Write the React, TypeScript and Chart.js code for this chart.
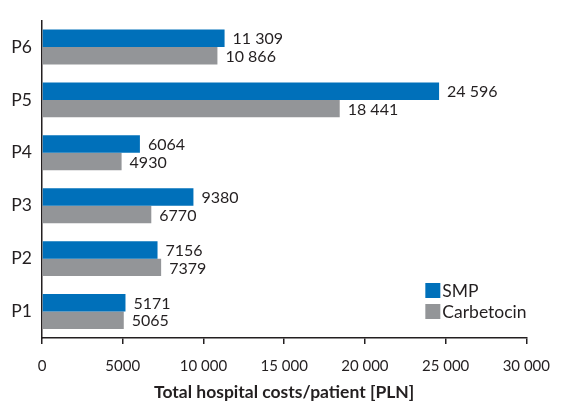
import React, { useEffect, useRef } from "react";
import { Chart, registerables } from "chart.js";

Chart.register(...registerables);

const categories = ["P6", "P5", "P4", "P3", "P2", "P1"];
const smpValues = [11309, 24596, 6064, 9380, 7156, 5171];
const carbetocinValues = [10866, 18441, 4930, 6770, 7379, 5065];
const seriesNames = ["SMP", "Carbetocin"];
const xTicks = [0, 5000, 10000, 15000, 20000, 25000, 30000];
const axisTitle = "Total hospital costs/patient [PLN]";

const BLUE = "#0070ba";
const GRAY = "#939598";
const TEXT = "#231f20";
const FONT = "Lato, 'Open Sans', sans-serif";

const fmtSpace = (v: number) => {
  if (v < 10000) return String(v);
  const s = String(v);
  return s.slice(0, s.length - 3) + " " + s.slice(s.length - 3);
};

const labelsPlugin = {
  id: "barLabels",
  afterDatasetsDraw(chart: any) {
    const ctx = chart.ctx;
    ctx.save();
    ctx.font = `16px ${FONT}`;
    ctx.fillStyle = TEXT;
    ctx.textAlign = "left";
    ctx.textBaseline = "middle";
    chart.data.datasets.forEach((ds: any, di: number) => {
      const meta = chart.getDatasetMeta(di);
      meta.data.forEach((bar: any, i: number) => {
        ctx.fillText(fmtSpace(ds.data[i]), bar.x + 8, bar.y + 1);
      });
    });
    // legend
    const a = chart.chartArea;
    const colors = [BLUE, GRAY];
    ctx.font = `17.5px ${FONT}`;
    seriesNames.forEach((name, i) => {
      const bx = a.right - 101;
      const by = a.bottom - 55 + i * 21;
      ctx.fillStyle = colors[i];
      ctx.fillRect(bx, by, 15, 15);
      ctx.fillStyle = TEXT;
      ctx.fillText(name, bx + 17, by + 8.5);
    });
    ctx.restore();
  },
};

export default function App() {
  const ref = useRef<HTMLCanvasElement>(null);
  useEffect(() => {
    document.body.style.margin = "0";
    const chart = new Chart(ref.current!, {
      type: "bar",
      data: {
        labels: categories,
        datasets: [
          { label: seriesNames[0], data: smpValues, backgroundColor: BLUE },
          { label: seriesNames[1], data: carbetocinValues, backgroundColor: GRAY },
        ],
      },
      options: {
        animation: false,
        responsive: false,
        indexAxis: "y",
        layout: { padding: { top: 15, right: 28, left: 0, bottom: 0 } },
        datasets: {
          bar: { categoryPercentage: 0.66, barPercentage: 1 },
        },
        plugins: {
          legend: { display: false },
          tooltip: { enabled: false },
        },
        scales: {
          x: {
            min: 0,
            max: 30000,
            afterBuildTicks: (s: any) => {
              s.ticks = xTicks.map((v) => ({ value: v }));
            },
            afterFit: (s: any) => {
              s.height = 64;
            },
            grid: {
              display: true,
              drawOnChartArea: false,
              drawTicks: true,
              tickLength: 6,
              color: TEXT,
              lineWidth: 1.5,
            },
            border: { display: true, color: TEXT, width: 1.5 },
            ticks: {
              color: TEXT,
              font: { family: FONT, size: 15 },
              padding: 13,
              maxRotation: 0,
              autoSkip: false,
              callback: (v: any) => fmtSpace(Number(v)),
            },
            title: {
              display: true,
              text: axisTitle,
              color: TEXT,
              font: { family: FONT, size: 17.5, weight: "bold" },
              padding: { top: 0, bottom: -1 },
            },
          },
          y: {
            afterFit: (s: any) => {
              s.width = 42;
            },
            grid: { display: false, drawTicks: false },
            border: { display: true, color: TEXT, width: 1.5 },
            ticks: {
              color: TEXT,
              font: { family: FONT, size: 17.5 },
              padding: 10,
            },
          },
        },
      },
      plugins: [labelsPlugin],
    } as any);
    return () => chart.destroy();
  }, []);
  return (
    <div style={{ position: "relative", width: 563, height: 402, background: "#fff" }}>
      <canvas ref={ref} width={563} height={402} style={{ display: "block", width: 563, height: 402 }} />
    </div>
  );
}
